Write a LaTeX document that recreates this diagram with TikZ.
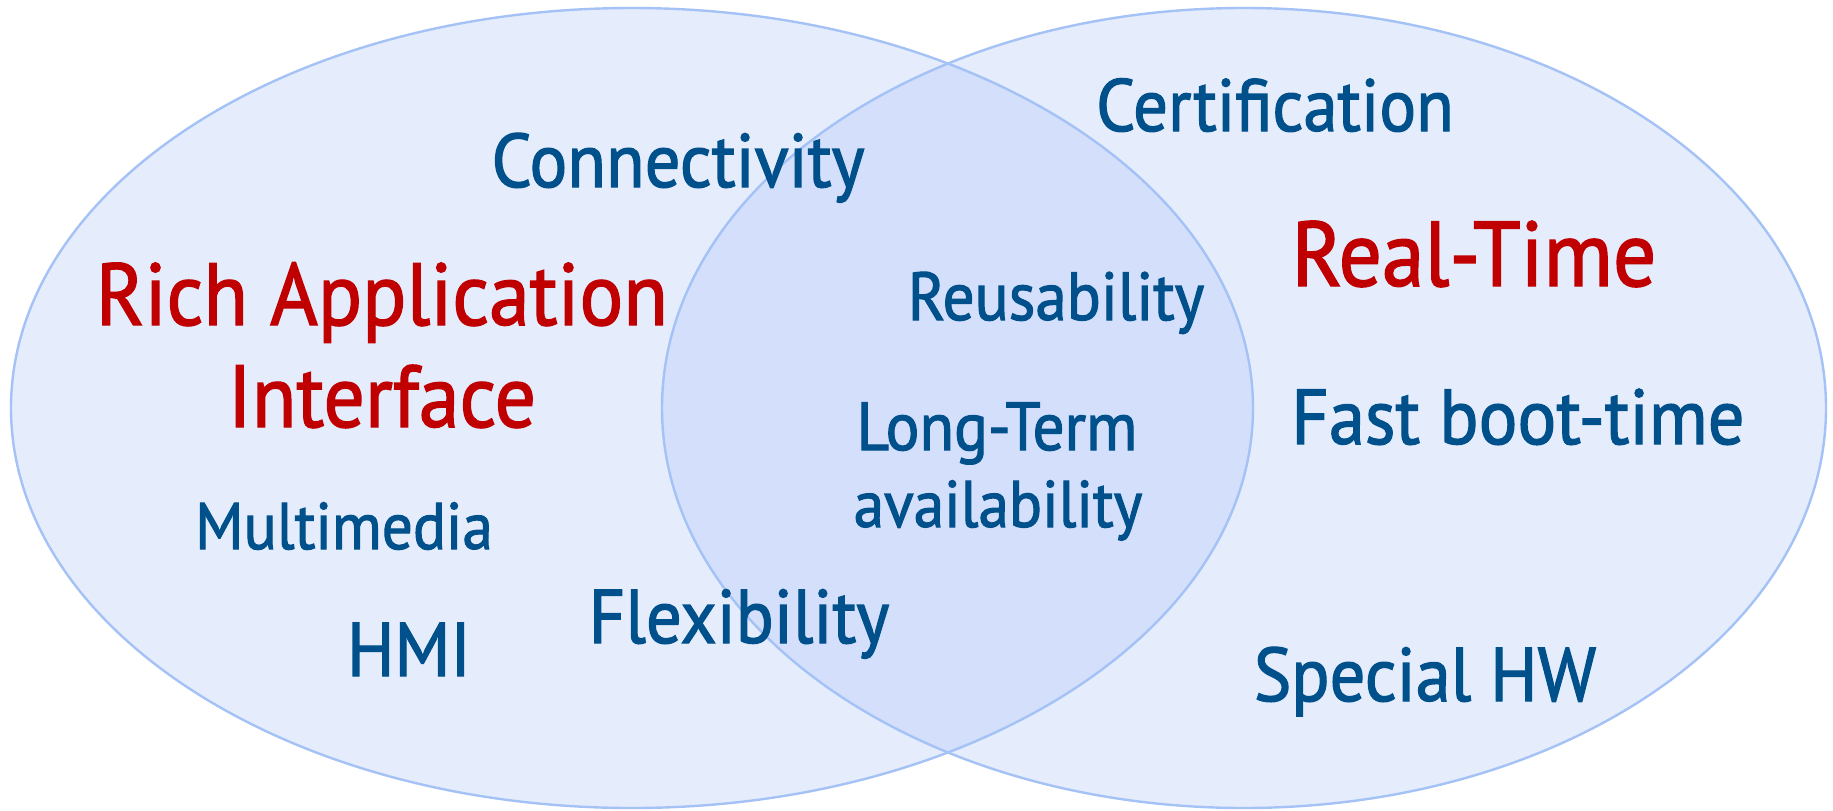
\documentclass[tikz,border=0pt]{standalone}
\usepackage{fontspec}
\setmainfont{PT Sans}[FakeStretch=0.93,FakeBold=1.6]
\definecolor{fillc}{HTML}{E5EDFC}
\definecolor{overc}{HTML}{D3DFFB}
\definecolor{edgec}{HTML}{A4C2F6}
\definecolor{tblue}{HTML}{00508C}
\definecolor{tred}{HTML}{C00000}
\begin{document}
\begin{tikzpicture}[x=0.5pt,y=-0.5pt,
  lbl/.style={anchor=base,inner sep=0pt,text=tblue},
  big/.style={lbl,text=tred,font=\fontsize{44}{50}\selectfont}]
\useasboundingbox (0,0) rectangle (1833,810);
\fill[white] (0,0) rectangle (1833,810);
\fill[fillc] (632,408) ellipse [x radius=621, y radius=400];
\fill[fillc] (1244,408) ellipse [x radius=582, y radius=400];
\begin{scope}
\clip (632,408) ellipse [x radius=621, y radius=400];
\fill[overc] (1244,408) ellipse [x radius=582, y radius=400];
\end{scope}
\draw[edgec,line width=1.2pt] (632,408) ellipse [x radius=621, y radius=400];
\draw[edgec,line width=1.2pt] (1244,408) ellipse [x radius=582, y radius=400];

\node[lbl,font=\fontsize{38}{44}\selectfont] (conn) at (678,187) {Connectivity};
\node[big] (rich) at (382,325) {Rich Application};
\node[big] (intf) at (382,427) {Interface};
\node[lbl,font=\fontsize{33}{38}\selectfont] (mm) at (344,549) {Multimedia};
\node[lbl,font=\fontsize{38}{44}\selectfont] (hmi) at (409,676) {HMI};
\node[lbl,font=\fontsize{38}{44}\selectfont] (flex) at (739,643) {Flexibility};
\node[lbl,font=\fontsize{34}{38}\selectfont] (reuse) at (1056,320) {Reusability};
\node[lbl,font=\fontsize{34}{38}\selectfont] (lt) at (997,450) {Long-Term};
\node[lbl,font=\fontsize{33}{38}\selectfont] (avail) at (998,527) {availability};
\node[lbl,font=\fontsize{37}{42}\selectfont] (cert) at (1275,131) {Certification};
\node[big,font=\fontsize{46}{52}\selectfont] (rt) at (1474,286) {Real-Time};
\node[lbl,font=\fontsize{39}{44}\selectfont] (fast) at (1518,444) {Fast boot-time};
\node[lbl,font=\fontsize{38}{44}\selectfont] (hw) at (1425,701) {Special HW};
\end{tikzpicture}
\end{document}
